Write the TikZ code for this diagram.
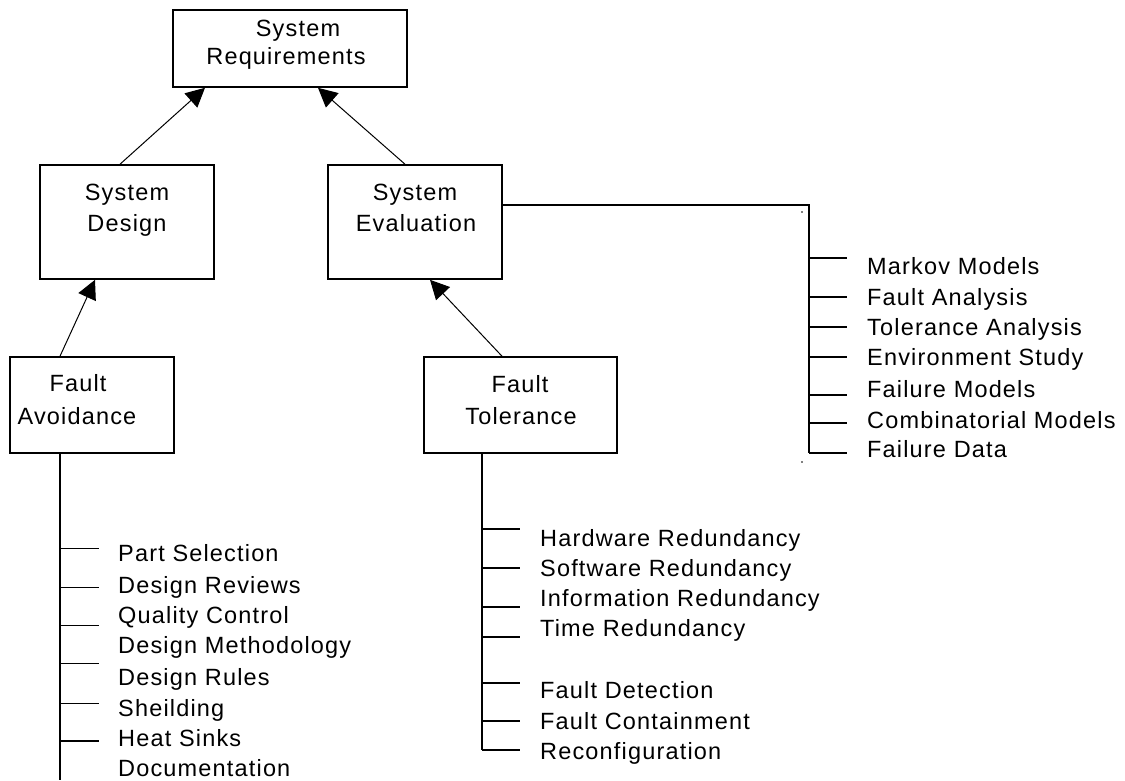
\documentclass[tikz,border=0pt]{standalone}
\usepackage{fontspec}
\setmainfont{Liberation Sans}[LetterSpace=5]
\usetikzlibrary{arrows.meta}

\tikzset{
  box/.style={draw, line width=1.6pt, minimum width=#1, inner sep=0pt},
  lbl/.style={anchor=base, inner sep=0pt, font=\fontsize{23.5}{27}\selectfont},
  item/.style={anchor=base west, inner sep=0pt, font=\fontsize{23.5}{27}\selectfont},
  link/.style={line width=1pt, -{Triangle[length=19pt, width=19pt]}},
  tree/.style={line width=1.8pt},
  twig/.style={line width=1.5pt}
}

\begin{document}
\begin{tikzpicture}[x=1pt, y=-1pt]
  \useasboundingbox (0,0) rectangle (1125,780);
  \clip (0,0) rectangle (1125,780);

  % boxes
  \node[box=234pt, minimum height=77pt]  (req) at (290,48.5) {};
  \node[box=174pt, minimum height=114pt] (sd)  at (127,222)  {};
  \node[box=174pt, minimum height=114pt] (se)  at (415,222)  {};
  \node[box=164pt, minimum height=96pt]  (fa)  at (92,405)   {};
  \node[box=193pt, minimum height=96pt]  (ft)  at (520.5,405) {};

  % box captions
  \node[lbl] (reqA) at (298,36.5) {System};
  \node[lbl] (reqB) at (286,64)   {Requirements};
  \node[lbl] (sdA)  at (127,200)  {System};
  \node[lbl] (sdB)  at (127,231.5){Design};
  \node[lbl] (seA)  at (415,200)  {System};
  \node[lbl] (seB)  at (416,231.5){Evaluation};
  \node[lbl] (faA)  at (78,391.5) {Fault};
  \node[lbl] (faB)  at (77,424)   {Avoidance};
  \node[lbl] (ftA)  at (520,392)  {Fault};
  \node[lbl] (ftB)  at (521,424)  {Tolerance};

  % arrows up the hierarchy
  \draw[link] ([xshift=-7pt]sd.north)    -- ([xshift=-85pt]req.south);
  \draw[link] ([xshift=-10pt]se.north)   -- ([xshift=28pt]req.south);
  \draw[link] ([xshift=-32pt]fa.north)   -- ([xshift=-32pt]sd.south);
  \draw[link] ([xshift=-18.5pt]ft.north) -- ([xshift=15pt]se.south);

  % evaluation methods
  \coordinate (seR) at ([yshift=17pt]se.east);
  \coordinate (seC) at (809,205);
  \coordinate (seE) at (809,453);
  \draw[tree] (seR) -- (seC) -- (seE);
  \foreach \y in {258,297,327,357,395,423,453}
    \draw[twig] (809,\y) -- (847,\y);
  \foreach \t/\y [count=\i] in {Markov Models/274,Fault Analysis/305.5,
      Tolerance Analysis/335.7,Environment Study/365,Failure Models/397,
      Combinatorial Models/428,Failure Data/457.7}
    \node[item] (ev\i) at (867,\y) {\t};
  \fill (802,212) circle (0.9pt);
  \fill (802,462) circle (0.9pt);

  % avoidance techniques
  \coordinate (faE) at (60,780);
  \draw[tree] ([xshift=-32pt]fa.south) -- (faE);
  \foreach \y in {548.3,587.7,625.7,663.3,703.3,741}
    \draw[twig] (60,\y) -- (99,\y);
  \foreach \t/\y [count=\i] in {Part Selection/561.7,Design Reviews/593,
      Quality Control/623,Design Methodology/653,Design Rules/685,
      Sheilding/716,Heat Sinks/746.7,Documentation/776.7}
    \node[item] (av\i) at (118,\y) {\t};

  % tolerance techniques
  \coordinate (ftE) at (482,750);
  \draw[tree] ([xshift=-38.5pt]ft.south) -- (ftE);
  \foreach \y in {529,568,607,637,683,721,750}
    \draw[twig] (482,\y) -- (520,\y);
  \foreach \t/\y [count=\i] in {Hardware Redundancy/546.5,Software Redundancy/576,
      Information Redundancy/606,Time Redundancy/636.5,Fault Detection/698,
      Fault Containment/729,Reconfiguration/759}
    \node[item] (tl\i) at (540,\y) {\t};
\end{tikzpicture}
\end{document}
